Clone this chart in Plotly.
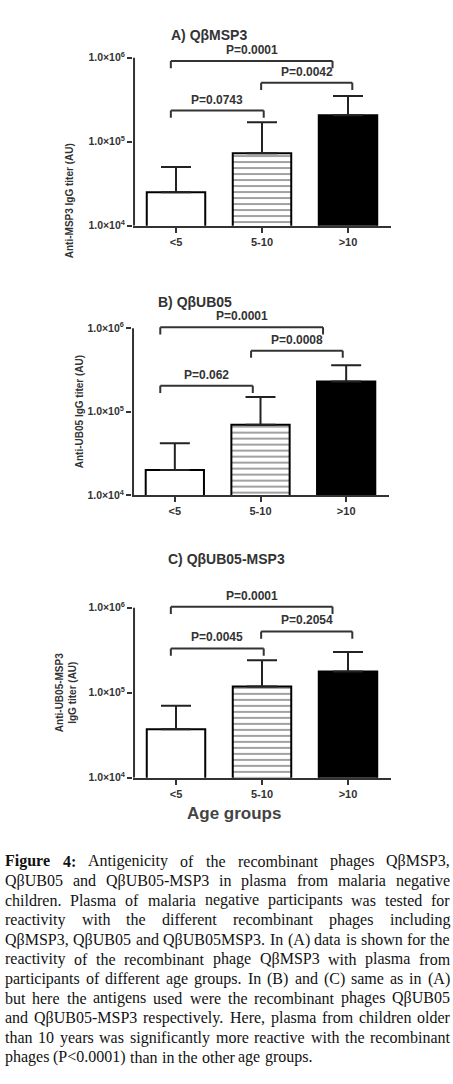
import plotly.graph_objects as go

W, H = 453, 1084

AGE_GROUPS = ["<5", "5-10", ">10"]

PANEL_TITLES = ["A) QβMSP3", "B) QβUB05", "C) QβUB05-MSP3"]
Y_TITLES = [
    "Anti-MSP3 IgG titer (AU)",
    "Anti-UB05 IgG titer (AU)",
    "Anti-UB05-MSP3<br>IgG titer (AU)",
]

# mean IgG titer (AU) per age group and the top of its error bar
MSP3_MEAN = [2.5e4, 7.3e4, 2.06e5]
MSP3_UPPER = [5.0e4, 1.7e5, 3.5e5]
UB05_MEAN = [2.0e4, 7.0e4, 2.3e5]
UB05_UPPER = [4.2e4, 1.5e5, 3.6e5]
UB05_MSP3_MEAN = [3.7e4, 1.18e5, 1.77e5]
UB05_MSP3_UPPER = [7.0e4, 2.4e5, 3.0e5]

# pairwise comparisons between age groups and their p-values
PAIRS = [(0, 2), (1, 2), (0, 1)]
MSP3_P = ["P=0.0001", "P=0.0042", "P=0.0743"]
UB05_P = ["P=0.0001", "P=0.0008", "P=0.062"]
UB05_MSP3_P = ["P=0.0001", "P=0.2054", "P=0.0045"]

CAPTION = [
    "Figure 4: Antigenicity of the recombinant phages QβMSP3,",
    "QβUB05 and QβUB05-MSP3 in plasma from malaria negative",
    "children. Plasma of malaria negative participants was tested for",
    "reactivity with the different recombinant phages including",
    "QβMSP3, QβUB05 and QβUB05MSP3. In (A) data is shown for the",
    "reactivity of the recombinant phage QβMSP3 with plasma from",
    "participants of different age groups. In (B) and (C) same as in (A)",
    "but here the antigens used were the recombinant phages QβUB05",
    "and QβUB05-MSP3 respectively. Here, plasma from children older",
    "than 10 years was significantly more reactive with the recombinant",
    "phages (P<0.0001) than in the other age groups.",
]

MEANS = [MSP3_MEAN, UB05_MEAN, UB05_MSP3_MEAN]
UPPERS = [MSP3_UPPER, UB05_UPPER, UB05_MSP3_UPPER]
PVALS = [MSP3_P, UB05_P, UB05_MSP3_P]

# ---- layout / style ----
SANS = "Liberation Sans, Arial, sans-serif"
SERIF = "Liberation Serif, Times New Roman, serif"
INK = "#333333"

# plot boxes in pixels: left, right, bottom (10^4), top of the range
PANEL_BOX = [(133, 391, 227, 45.3), (132, 389, 498, 317.4), (133, 391, 782, 598.2)]
Y_RANGE = [4, 6.15]
# bracket heights (log10 AU) and end offsets from the group centres
BRACKET_LEVELS = [[5.96, 5.70, 5.37], [6.01, 5.73, 5.31], [6.01, 5.72, 5.52]]
BRACKET_ENDS = [
    [(-0.06, -0.18), (-0.01, 0.05), (-0.06, 0.02)],
    [(-0.17, -0.27), (-0.11, -0.04), (-0.17, -0.09)],
    [(-0.06, -0.18), (-0.01, 0.05), (-0.06, 0.02)],
]
BRACKET_DROP = 0.085
TITLE_POS = [(209, 25), (195, 294), (226, 562)]
YTITLE_POS = [(62, 142), (72, 414), (52, 697)]


def px_x(v):
    return v / W


def px_y(v):
    return 1 - v / H


fig = go.Figure()
shapes, annotations = [], []

for i in range(3):
    sfx = "" if i == 0 else str(i + 1)
    xa, ya = "x" + sfx, "y" + sfx
    left, right, bottom, top = PANEL_BOX[i]
    err = [u - m for u, m in zip(UPPERS[i], MEANS[i])]

    fig.add_trace(go.Bar(
        x=[0, 1, 2],
        y=MEANS[i],
        width=0.68,
        marker=dict(
            color=["white", "white", "black"],
            line=dict(color="black", width=2),
            # 2px lines every 6px, kept on whole pixels so they stay crisp
            pattern=dict(shape=["", "-", ""], fgcolor="black", bgcolor="white",
                         size=6, solidity=1 / 3),
        ),
        error_y=dict(type="data", symmetric=False, array=err, arrayminus=[0, 0, 0],
                     color="#222222", thickness=2, width=15),
        xaxis=xa, yaxis=ya,
        showlegend=False,
        hoverinfo="skip",
    ))

    fig.update_layout({
        "xaxis" + sfx: dict(
            domain=[px_x(left), px_x(right)], anchor=ya, range=[-0.5, 2.5],
            tickvals=[0, 1, 2], ticktext=[g.replace("<", "&lt;") for g in AGE_GROUPS],
            showline=True, linewidth=2, linecolor=INK,
            ticks="outside", ticklen=5, tickwidth=2, tickcolor=INK,
            showgrid=False, zeroline=False,
            tickfont=dict(family=SANS, size=11, color=INK, weight="bold"),
        ),
        "yaxis" + sfx: dict(
            domain=[px_y(bottom), px_y(top)], anchor=xa, type="log", range=Y_RANGE,
            tickvals=[1e4, 1e5, 1e6],
            ticktext=["1.0×10<sup>4</sup>", "1.0×10<sup>5</sup>", "1.0×10<sup>6</sup>"],
            showline=False, ticks="outside", ticklen=5, tickwidth=2, tickcolor=INK,
            showgrid=False, zeroline=False,
            tickfont=dict(family=SANS, size=10.5, color=INK, weight="bold"),
        ),
    })

    # y axis line only from 10^4 to 10^6 (shape coordinates are data values here)
    shapes.append(dict(type="line", xref=xa + " domain", yref=ya, x0=0.004, x1=0.004,
                       y0=1e4, y1=1e6, line=dict(color=INK, width=2)))

    # significance brackets
    for k, (a, b) in enumerate(PAIRS):
        lvl = BRACKET_LEVELS[i][k]
        x0 = a + BRACKET_ENDS[i][k][0]
        x1 = b + BRACKET_ENDS[i][k][1]
        hi, lo = 10 ** lvl, 10 ** (lvl - BRACKET_DROP)
        for sx0, sy0, sx1, sy1 in [(x0, lo, x0, hi), (x0, hi, x1, hi), (x1, hi, x1, lo)]:
            shapes.append(dict(type="line", xref=xa, yref=ya, x0=sx0, y0=sy0, x1=sx1, y1=sy1,
                               line=dict(color=INK, width=2)))
        annotations.append(dict(
            xref=xa, yref=ya, x=(x0 + x1) / 2, y=lvl, text=PVALS[i][k],
            yanchor="bottom", yshift=2, showarrow=False,
            font=dict(family=SANS, size=12, color=INK, weight="bold"),
        ))

    tx, ty = TITLE_POS[i]
    annotations.append(dict(
        xref="paper", yref="paper", x=px_x(tx), y=px_y(ty), text=PANEL_TITLES[i],
        showarrow=False, font=dict(family=SANS, size=14, color=INK, weight="bold"),
    ))
    yx, yy = YTITLE_POS[i]
    annotations.append(dict(
        xref="paper", yref="paper", x=px_x(yx), y=px_y(yy), text=Y_TITLES[i],
        textangle=-90, showarrow=False,
        font=dict(family=SANS, size=10, color=INK, weight="bold"),
    ))

annotations.append(dict(
    xref="paper", yref="paper", x=px_x(234), y=px_y(830), text="Age groups",
    showarrow=False, font=dict(family=SANS, size=17, color="#444444", weight="bold"),
))

# ---- justified caption (Times metrics, per 1000 em) ----
REG_W = dict(zip("abcdefghijklmnopqrstuvwxyz",
                 [444, 500, 444, 500, 444, 333, 500, 500, 278, 278, 500, 278, 778,
                  500, 500, 500, 500, 333, 389, 278, 500, 500, 722, 500, 500, 444]))
REG_W.update(zip("ABCDEFGHIJKLMNOPQRSTUVWXYZ",
                 [722, 667, 667, 722, 611, 556, 722, 722, 333, 389, 722, 611, 889,
                  722, 722, 556, 722, 667, 556, 611, 722, 722, 944, 722, 722, 611]))
REG_W.update({d: 500 for d in "0123456789"})
REG_W.update({".": 250, ",": 250, ":": 278, "(": 333, ")": 333, "-": 333, "<": 564, "β": 500})
BOLD_W = {"F": 611, "i": 278, "g": 500, "u": 556, "r": 444, "e": 444, "4": 500, ":": 333}
CAP_SIZE = 16
CAP_LEFT, CAP_RIGHT = 4, 449
CAP_TOP, CAP_STEP = 866, 19.7


def word_width(word, bold):
    table = BOLD_W if bold else REG_W
    return sum(table.get(c, REG_W.get(c, 500)) for c in word) * CAP_SIZE / 1000


for n, line in enumerate(CAPTION):
    words = line.split(" ")
    bold = [n == 0 and j < 2 for j in range(len(words))]
    widths = [word_width(w, b) for w, b in zip(words, bold)]
    if n < len(CAPTION) - 1:
        gap = (CAP_RIGHT - CAP_LEFT - sum(widths)) / (len(words) - 1)
    else:
        gap = 250 * CAP_SIZE / 1000
    x = CAP_LEFT
    for w, wd, b in zip(words, widths, bold):
        txt = w.replace("<", "&lt;")
        annotations.append(dict(
            xref="paper", yref="paper", x=px_x(x), y=px_y(CAP_TOP + n * CAP_STEP),
            xanchor="left", yanchor="middle", text=f"<b>{txt}</b>" if b else txt,
            showarrow=False, borderpad=0,
            font=dict(family=SERIF, size=CAP_SIZE, color="#111111"),
        ))
        x += wd + gap

fig.update_layout(
    width=W, height=H,
    margin=dict(l=0, r=0, t=0, b=0),
    paper_bgcolor="white", plot_bgcolor="white",
    showlegend=False,
    shapes=shapes,
    annotations=annotations,
    bargap=0.3,
)

# the page's default body margin would push the 453px figure off the window
fig.write_html("out.html", config={"displayModeBar": False},
               post_script="document.body.style.margin = '0';")
